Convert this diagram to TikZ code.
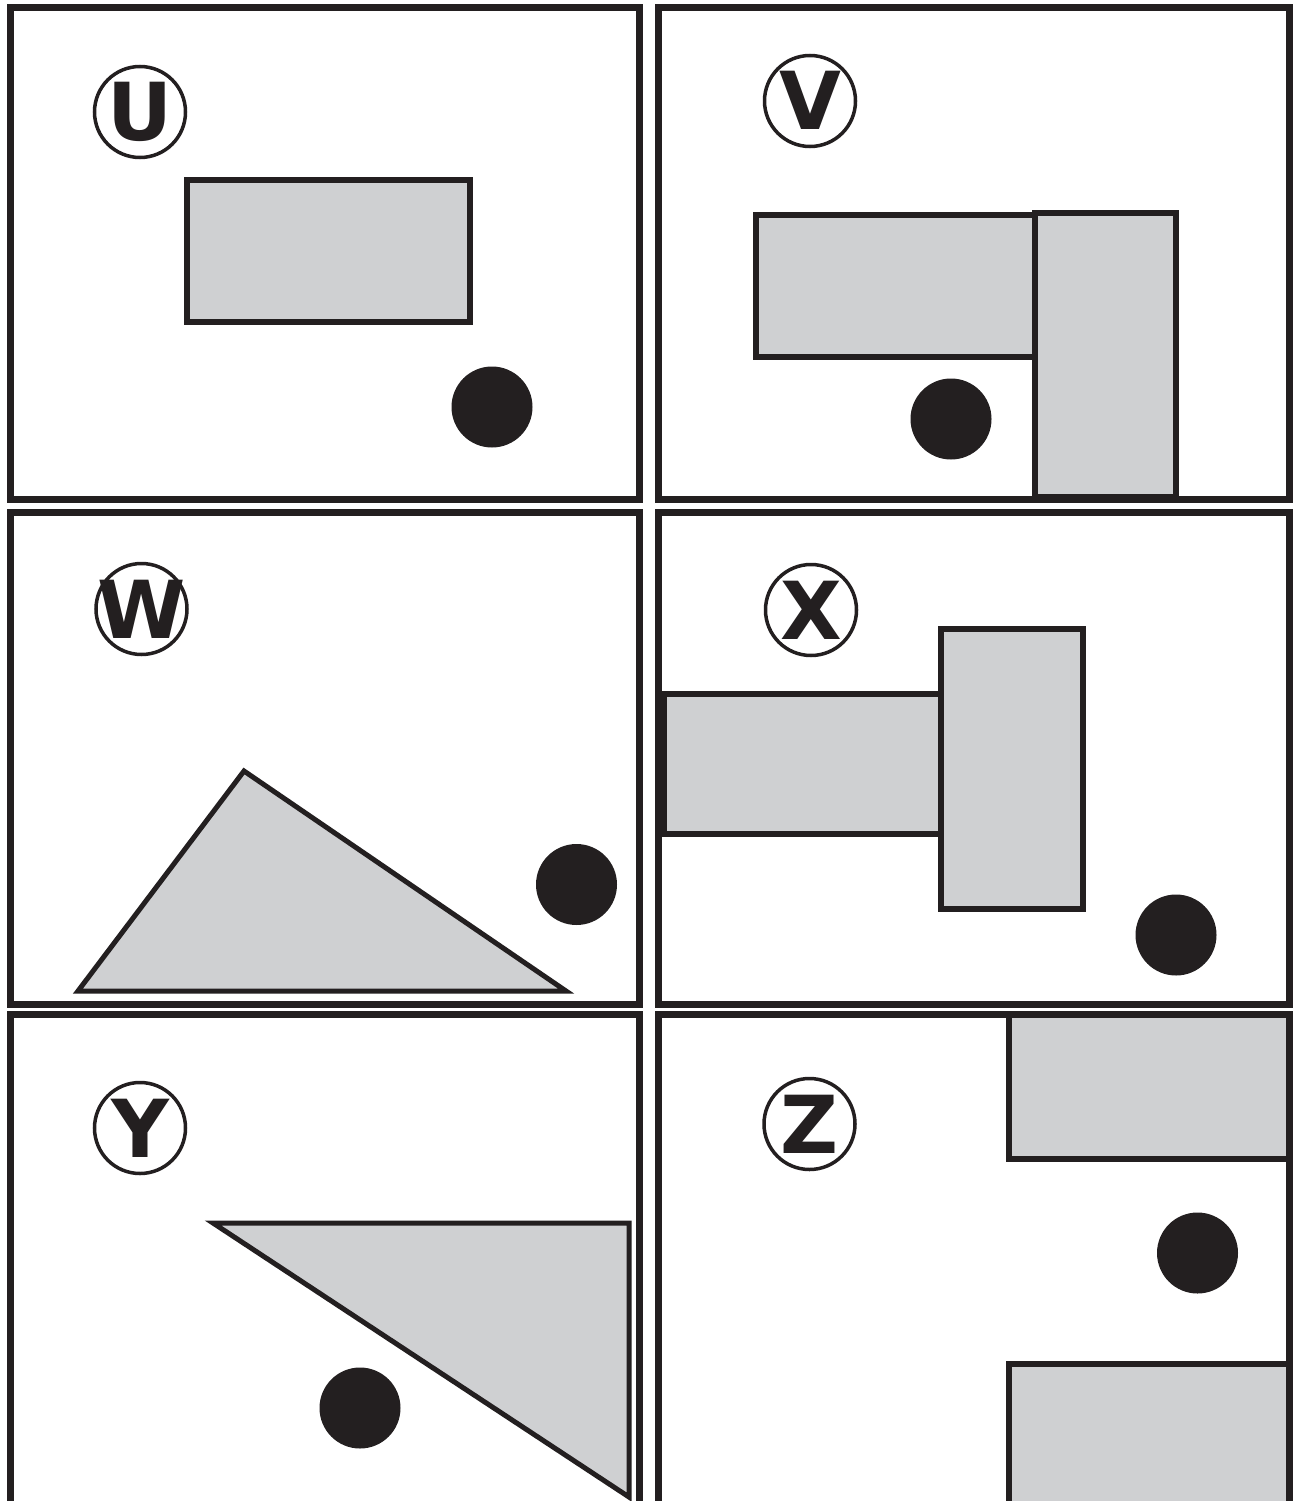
\documentclass[tikz,border=0pt]{standalone}
\usepackage{fontspec}
\newfontfamily\lblfont{DejaVu Sans}
\definecolor{ink}{HTML}{231F20}
\definecolor{fillgray}{HTML}{CFD0D2}
\begin{document}
\begin{tikzpicture}[x=1pt,y=-1pt,
  frame/.style={draw=ink,line width=7pt},
  block/.style={draw=ink,fill=fillgray,line width=6pt},
  tri/.style={draw=ink,fill=fillgray,line width=5pt,line join=miter},
  dot/.style={circle,fill=ink,minimum size=81pt,inner sep=0pt},
  badge/.style={circle,draw=ink,line width=3.5pt,minimum size=91pt,inner sep=0pt},
  letter/.style={font=\lblfont\bfseries\fontsize{80}{80}\selectfont,text=ink,inner sep=0pt,text height=58pt,text depth=0pt}]
\useasboundingbox (0,0) rectangle (1293,1501);
\clip (0,0) rectangle (1293,1501);
\fill[white] (0,0) rectangle (1293,1501);

% U panel
\draw[block] (187,180) rectangle (470,322);
\node[dot] (du) at (492,407) {};
\node[badge] (bu) at (140,112) {};
\node[letter] (lu) at (bu.center) {U};

% V panel
\draw[block] (756,215) rectangle (1035,356.5);
\draw[block] (1035,212.5) rectangle (1175.5,497);
\node[dot] (dv) at (951,419) {};
\node[badge] (bv) at (810,101) {};
\node[letter] (lv) at (bv.center) {V};

% W panel
\draw[tri] (78,991) -- (244,771) -- (566,991) -- cycle;
\node[dot] (dw) at (576.5,884.5) {};
\node[badge] (bw) at (141.5,609) {};
\node[letter] (lw) at (bw.center) {W};

% X panel
\draw[block] (664,693.5) rectangle (941,834);
\draw[block] (941,629) rectangle (1083,909);
\node[dot] (dx) at (1176,935) {};
\node[badge] (bx) at (811,610) {};
\node[letter] (lx) at (bx.center) {X};

% Y panel
\draw[tri] (213,1223) -- (629,1223) -- (629,1497) -- cycle;
\node[dot] (dy) at (360,1408) {};
\node[badge] (by) at (140,1128) {};
\node[letter] (ly) at (by.center) {Y};

% Z panel
\draw[block] (1008.5,1014.7) rectangle (1289.5,1158.5);
\draw[block] (1008.5,1363.5) rectangle (1289.5,1530);
\node[dot] (dz) at (1197.5,1253) {};
\node[badge] (bz) at (809.5,1124) {};
\node[letter] (lz) at (bz.center) {Z};

% panel frames
\draw[frame] (10,8) rectangle (639.5,499.7);
\draw[frame] (658,8) rectangle (1289.5,499.7);
\draw[frame] (10,512.7) rectangle (639.5,1004.7);
\draw[frame] (658,512.7) rectangle (1289.5,1004.7);
\draw[frame] (10,1014.7) rectangle (639.5,1540);
\draw[frame] (658,1014.7) rectangle (1289.5,1540);
\end{tikzpicture}
\end{document}
